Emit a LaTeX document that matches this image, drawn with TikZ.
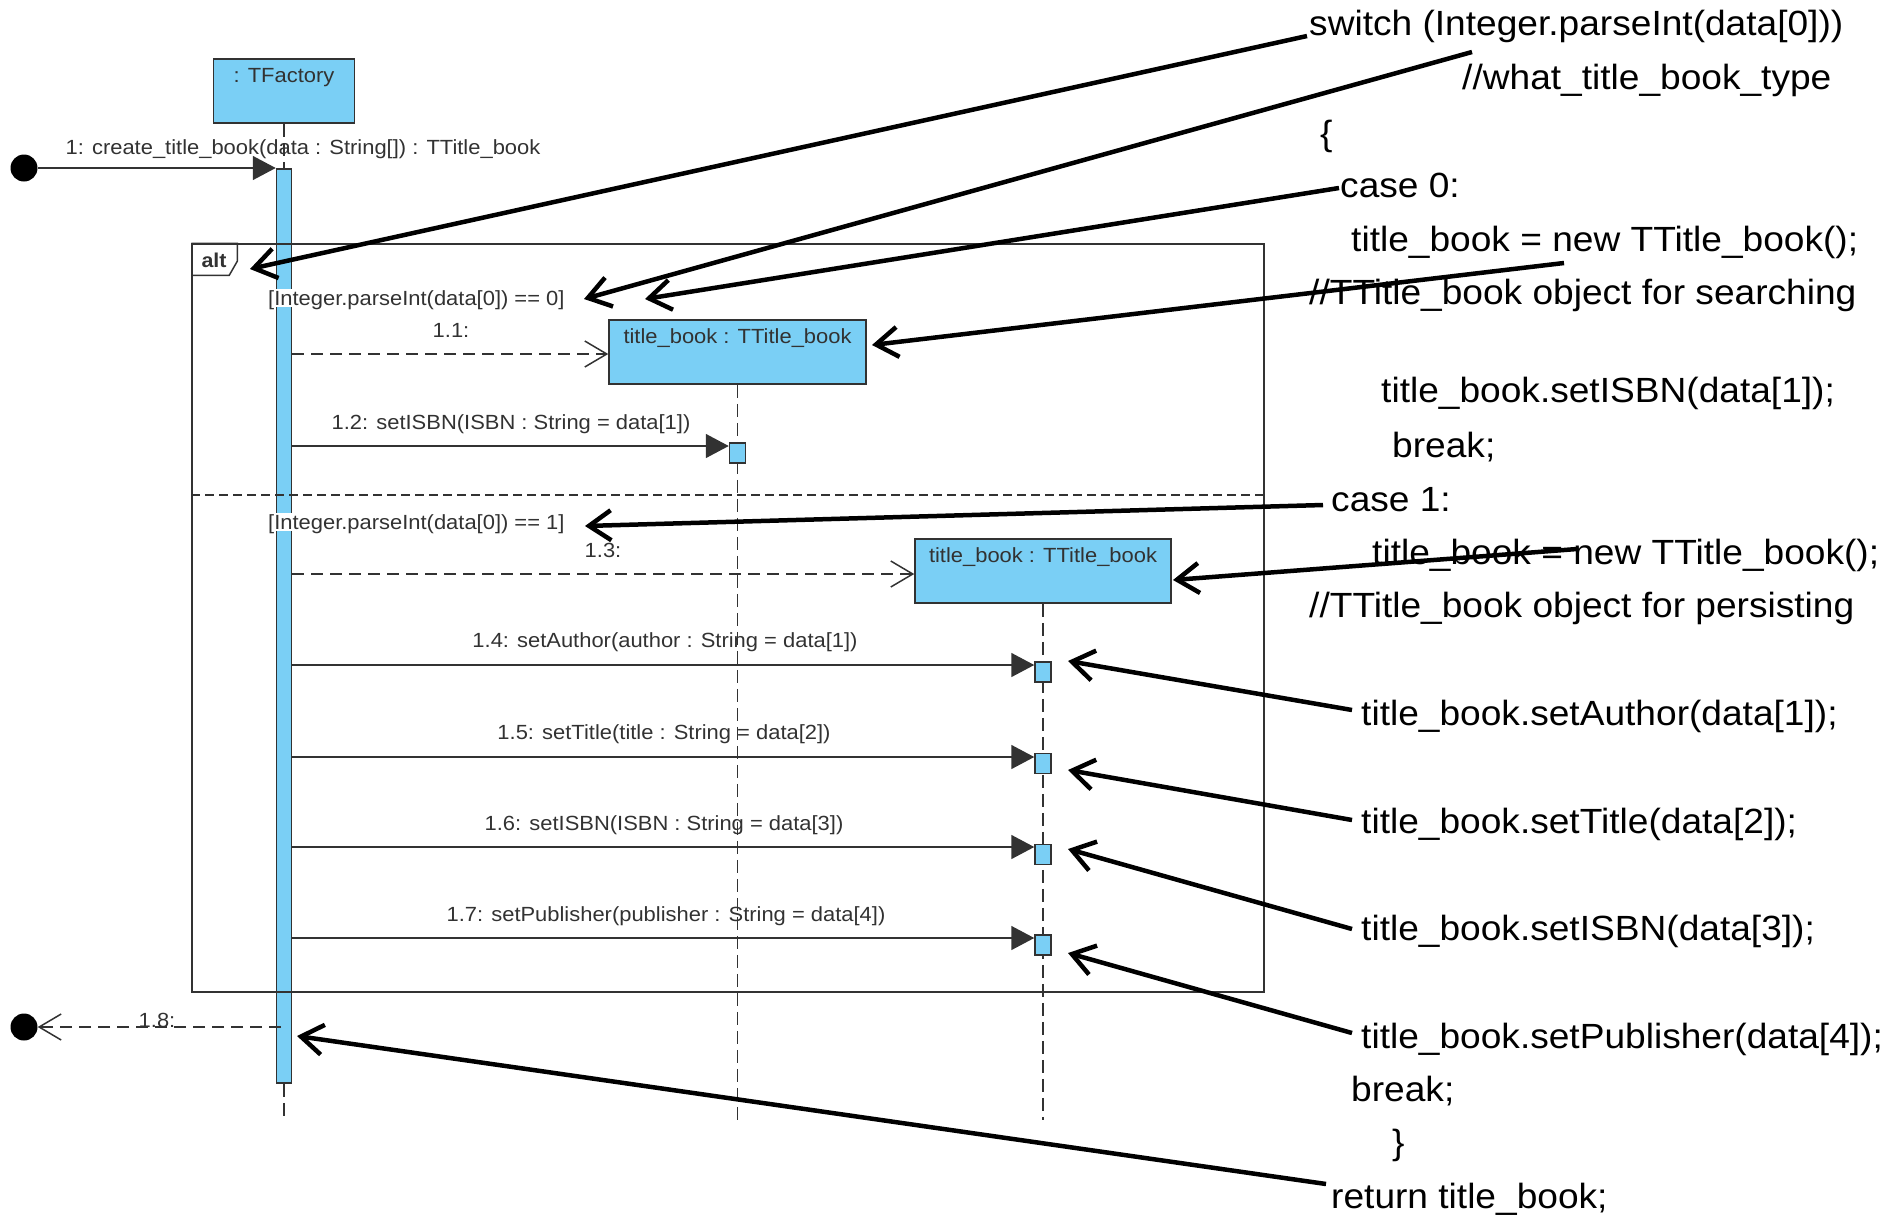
\documentclass[tikz,border=0pt]{standalone}
\usepackage{fontspec}
\setmainfont{Liberation Sans}
\newfontfamily\codefont[FakeStretch=1.06]{Liberation Sans}
\newfontfamily\lblfont[FakeStretch=1.07]{Liberation Sans}
\usetikzlibrary{arrows.meta}
\definecolor{vpblue}{RGB}{122,207,245}
\definecolor{ink}{RGB}{50,50,50}
\begin{document}
\begin{tikzpicture}[x=1pt,y=-1pt,
  lbl/.style={font=\lblfont\fontsize{20.5}{24}\selectfont, text=ink, inner sep=0pt, text height=14.7pt, text depth=0pt},
  guard/.style={lbl, fill=white, inner sep=2pt, anchor=west},
  code/.style={font=\codefont\fontsize{35}{42}\selectfont, anchor=west, inner sep=0pt, text height=25pt, text depth=0pt},
  objbox/.style={draw=ink, line width=1.5pt, fill=vpblue, minimum height=64pt, inner sep=0pt},
  actbox/.style={draw=ink, line width=1.5pt, fill=vpblue, minimum width=16pt, minimum height=20pt, inner sep=0pt},
  lifeline/.style={draw=ink, line width=1.5pt, dash pattern=on 13pt off 6pt},
  msg/.style={draw=ink, line width=1.6pt, -{Triangle[length=23pt,width=24pt]}},
  createmsg/.style={draw=ink, line width=1.5pt, dash pattern=on 12pt off 7pt, -{Straight Barb[length=22pt,width=26pt,line width=1.5pt]}},
  dot/.style={circle, fill=black, minimum size=27pt, inner sep=0pt},
  note/.style={draw=black, line width=4.5pt, -{Straight Barb[length=22pt,width=30pt]}},
]
\useasboundingbox (0,0) rectangle (1895,1216);

% ---------- objects ----------
\node[objbox, minimum width=141pt] (tf) at (284,91) {};
\node[lbl] (tflbl) at (284,75) {: TFactory};

% lifelines
\coordinate (tfend) at (284,1120);
\coordinate (l1end) at (737.5,1120);
\coordinate (l2end) at (1043,1120);

\node[draw=ink, line width=1.5pt, fill=vpblue, minimum width=15pt, minimum height=914pt, inner sep=0pt] (bar) at (284,626) {};
\draw[lifeline] (tf.south) -- (bar.north);
\draw[lifeline] (bar.south) -- (tfend);

% ---------- alt frame ----------
\node[draw=ink, line width=1.5pt, minimum width=1072pt, minimum height=748pt, inner sep=0pt] (frame) at (728,618) {};
\draw[ink, line width=1.5pt] (frame.north west) -- ++(46,0) -- ++(0,18) -- ++(-8,14) -- ++(-38,0);
\node[font=\lblfont\fontsize{20}{24}\selectfont\bfseries, text=ink, inner sep=0pt] (alttxt) at (214,260) {alt};
\coordinate (ysep) at (0,495);
\draw[ink, line width=1.5pt, dash pattern=on 9pt off 5pt] (frame.west |- ysep) -- (frame.east |- ysep);
\node[guard] (g0) at (266,298) {[Integer.parseInt(data[0]) == 0]};
\node[guard] (g1) at (266,522) {[Integer.parseInt(data[0]) == 1]};

% title_book objects
\node[objbox, minimum width=257pt] (tb1) at (737.5,352) {};
\node[lbl] (tb1lbl) at (737.5,336) {title\_book : TTitle\_book};
\node[objbox, minimum width=256pt] (tb2) at (1043,571) {};
\node[lbl] (tb2lbl) at (1043,555) {title\_book : TTitle\_book};
\draw[lifeline] (tb1.south) -- (l1end);
\draw[lifeline] (tb2.south) -- (l2end);

% activation boxes
\node[actbox] (a12) at (737.5,453) {};
\node[actbox] (a14) at (1043,672) {};
\node[actbox] (a15) at (1043,763.5) {};
\node[actbox] (a16) at (1043,854.5) {};
\node[actbox] (a17) at (1043,945) {};

% ---------- messages ----------
\node[dot] (c1) at (24,168) {};
\node[dot] (c2) at (24,1027) {};
\draw[msg] (c1.east) -- (c1.east -| bar.west);
\node[lbl] (m1) at (303,147) {1: create\_title\_book(data : String[]) : TTitle\_book};

\coordinate (y11) at (0,354);
\draw[createmsg] (bar.east |- y11) -- (tb1.west |- y11);
\node[lbl] (m11) at (451,330) {1.1:};

\coordinate (y12) at (0,446);
\draw[msg] (bar.east |- y12) -- (a12.west |- y12);
\node[lbl] (m12) at (511,422) {1.2: setISBN(ISBN : String = data[1])};

\coordinate (y13) at (0,574);
\draw[createmsg] (bar.east |- y13) -- (tb2.west |- y13);
\node[lbl] (m13) at (603,550) {1.3:};

\coordinate (y14) at (0,665);
\draw[msg] (bar.east |- y14) -- (a14.west |- y14);
\node[lbl] (m14) at (665,640) {1.4: setAuthor(author : String = data[1])};

\coordinate (y15) at (0,757);
\draw[msg] (bar.east |- y15) -- (a15.west |- y15);
\node[lbl] (m15) at (664,732) {1.5: setTitle(title : String = data[2])};

\coordinate (y16) at (0,847);
\draw[msg] (bar.east |- y16) -- (a16.west |- y16);
\node[lbl] (m16) at (664,823) {1.6: setISBN(ISBN : String = data[3])};

\coordinate (y17) at (0,938);
\draw[msg] (bar.east |- y17) -- (a17.west |- y17);
\node[lbl] (m17) at (666,914) {1.7: setPublisher(publisher : String = data[4])};

\coordinate (y18) at (281,1027);
\draw[createmsg] (y18) -- (c2.east);
\node[lbl] (m18) at (157,1020) {1.8:};

% ---------- code text ----------
\node[code] (t1) at (1309,23) {switch (Integer.parseInt(data[0]))};
\node[code] (t2) at (1462,77) {//what\_title\_book\_type};
\node[code] (t3) at (1320,133) {\{};
\node[code] (t4) at (1340,185) {case 0:};
\node[code] (t5) at (1351,239) {title\_book = new TTitle\_book();};
\node[code] (t6) at (1309,292) {//TTitle\_book object for searching};
\node[code] (t7) at (1381,390) {title\_book.setISBN(data[1]);};
\node[code] (t8) at (1392,445) {break;};
\node[code] (t9) at (1331,499) {case 1:};
\node[code] (t10) at (1372,552) {title\_book = new TTitle\_book();};
\node[code] (t11) at (1309,605) {//TTitle\_book object for persisting};
\node[code] (t12) at (1361,713) {title\_book.setAuthor(data[1]);};
\node[code] (t13) at (1361,821) {title\_book.setTitle(data[2]);};
\node[code] (t14) at (1361,928) {title\_book.setISBN(data[3]);};
\node[code] (t15) at (1361,1036) {title\_book.setPublisher(data[4]);};
\node[code] (t16) at (1351,1089) {break;};
\node[code] (t17) at (1392,1142) {\}};
\node[code] (t18) at (1331,1196) {return title\_book;};

% ---------- annotation arrows ----------
\coordinate (s1) at (1307,36);   \coordinate (e1) at (250,269);
\coordinate (s2) at (1472,52);   \coordinate (e2) at (584,299);
\coordinate (s3) at (1339,188);  \coordinate (e3) at (645,299);
\coordinate (s4) at (1564,263);  \coordinate (e4) at (872,345);
\coordinate (s5) at (1323,505);  \coordinate (e5) at (585,526);
\coordinate (s6) at (1577,549);  \coordinate (e6) at (1173,580);
\coordinate (s7) at (1352,710);  \coordinate (e7) at (1068,661);
\coordinate (s8) at (1352,820);  \coordinate (e8) at (1068,770);
\coordinate (s9) at (1352,929);  \coordinate (e9) at (1068,849);
\coordinate (s10) at (1352,1033); \coordinate (e10) at (1068,953);
\coordinate (s11) at (1326,1184); \coordinate (e11) at (297,1036);
\foreach \i in {1,...,11} { \draw[note] (s\i) -- (e\i); }
\end{tikzpicture}
\end{document}
